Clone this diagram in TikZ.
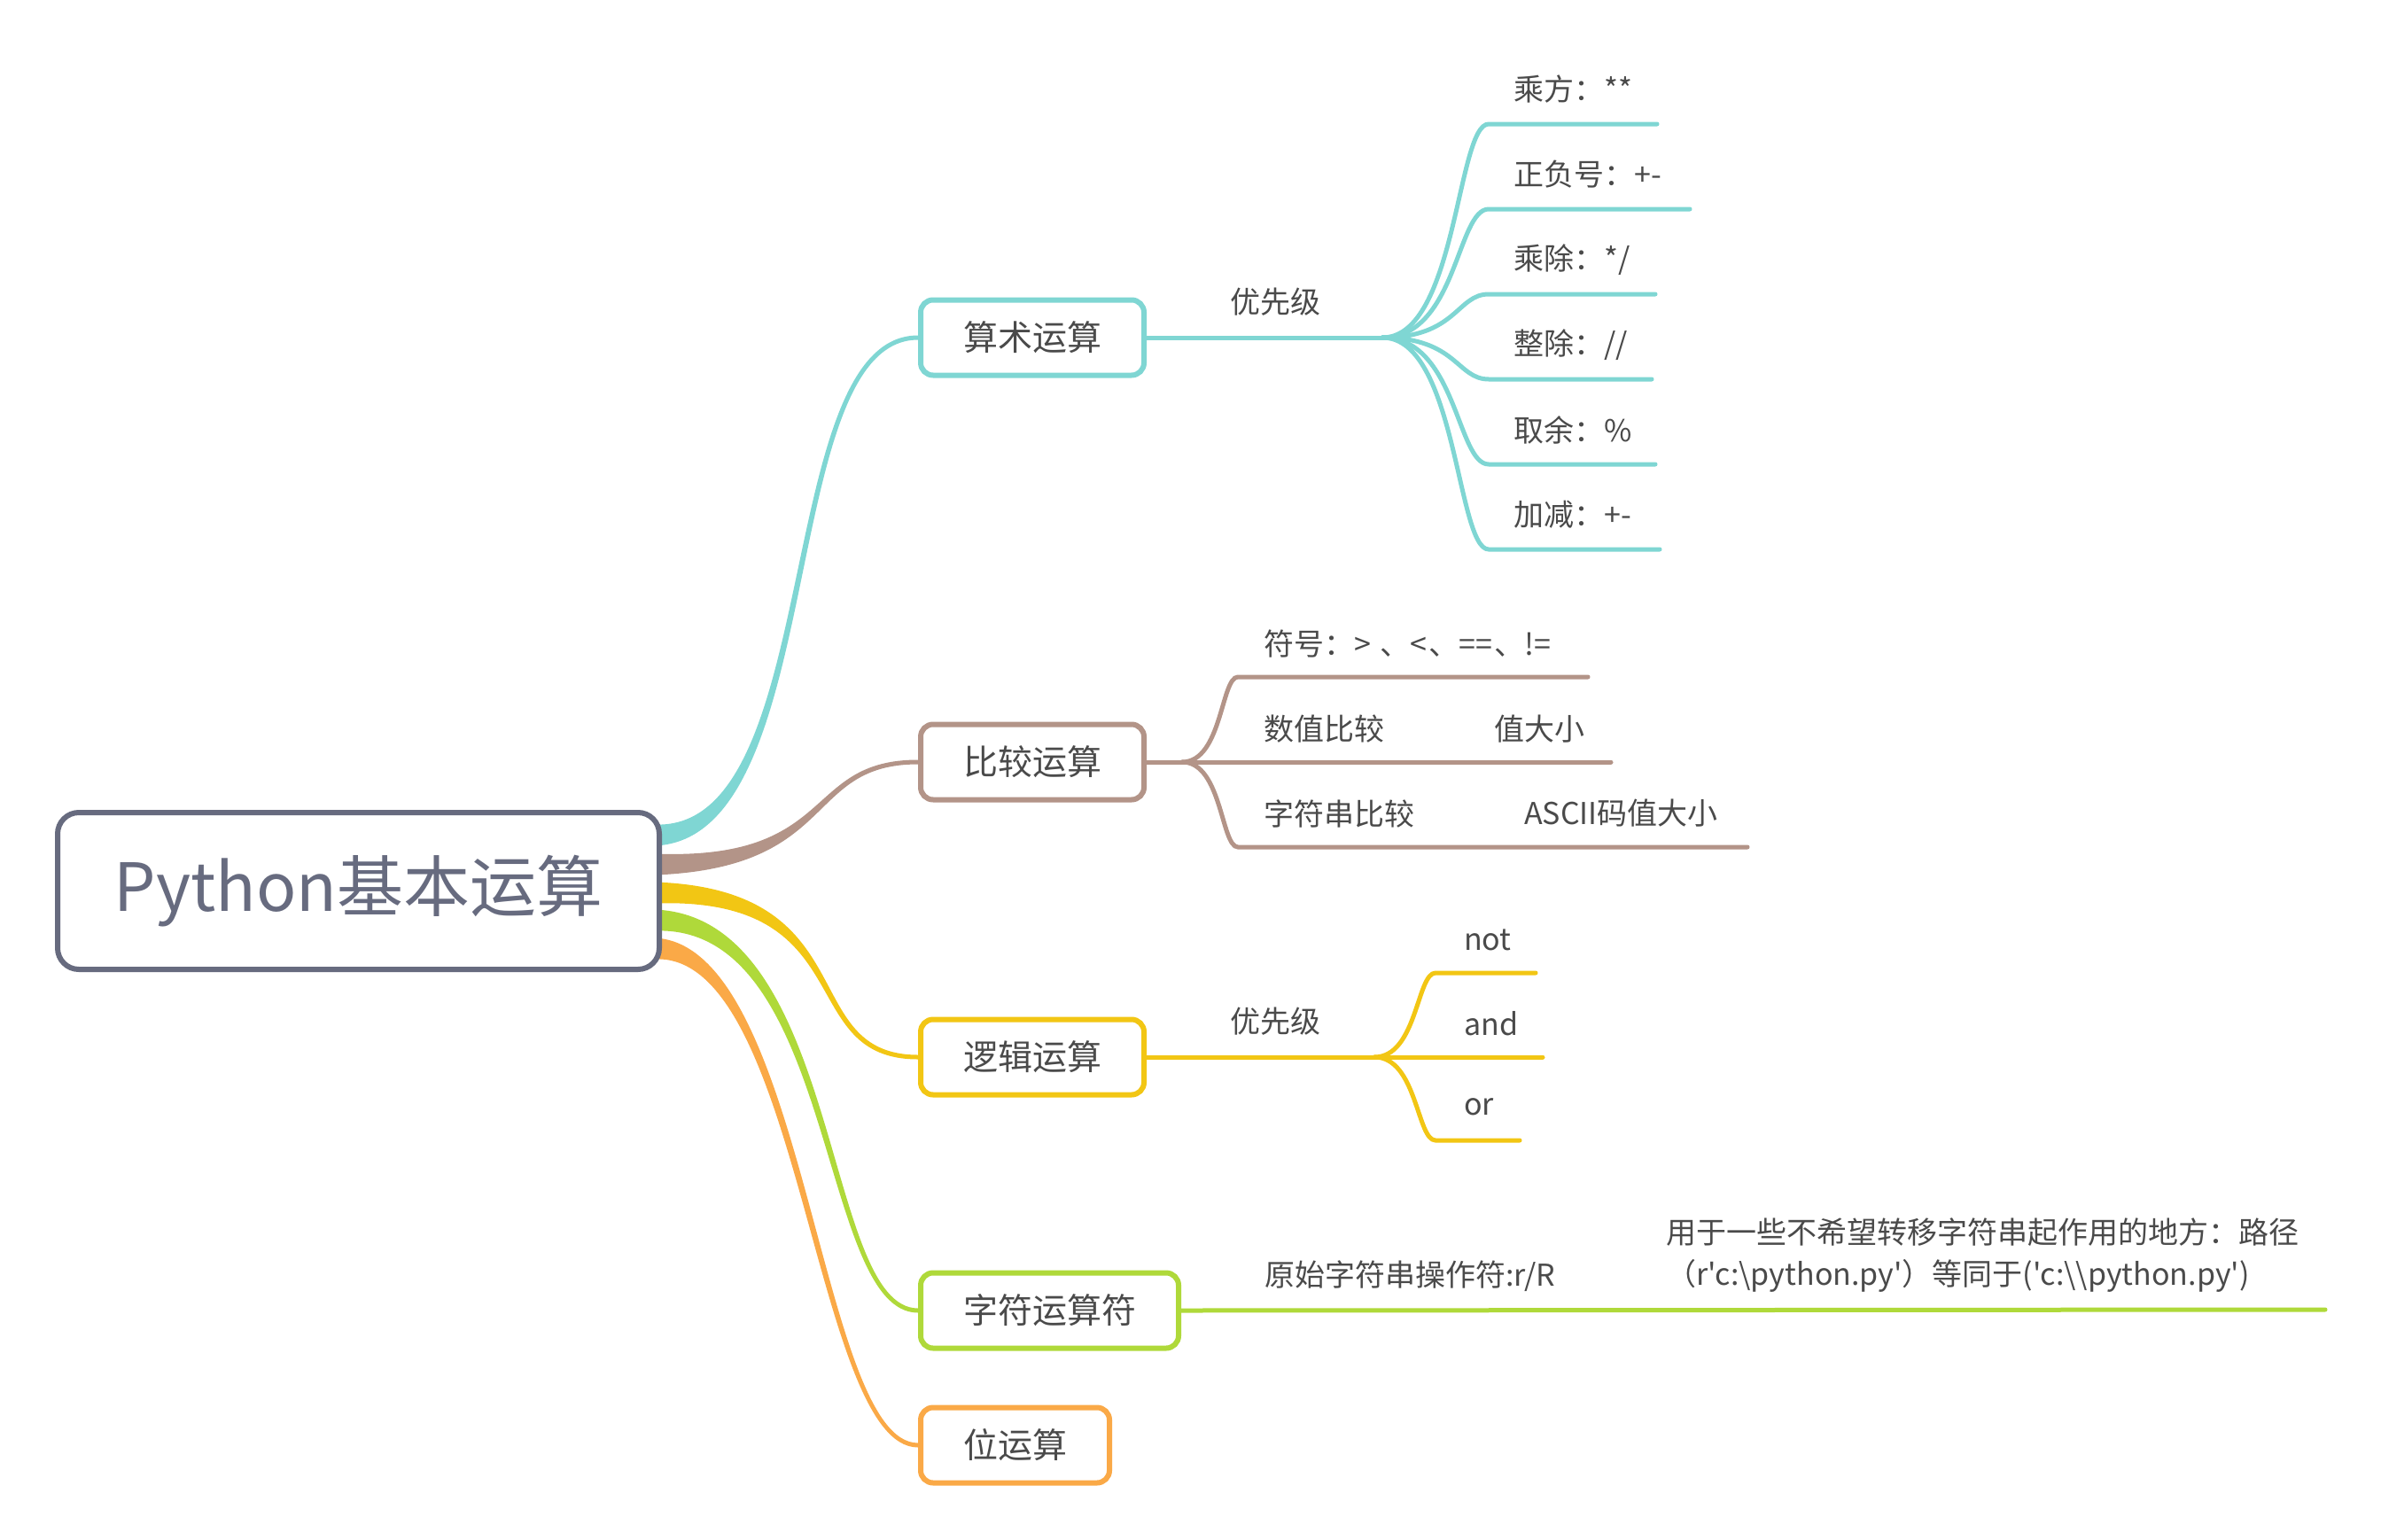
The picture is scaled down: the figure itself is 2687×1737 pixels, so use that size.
\documentclass[tikz,border=0pt]{standalone}
\usepackage{fontspec}
\newfontfamily\cjkf{Noto Sans CJK SC}
\usetikzlibrary{calc,backgrounds}
\definecolor{cteal}{HTML}{7FD6D3}
\definecolor{cbrown}{HTML}{B39488}
\definecolor{cyellow}{HTML}{F2C614}
\definecolor{cgreen}{HTML}{AFD93A}
\definecolor{corange}{HTML}{FAA947}
\definecolor{croot}{HTML}{676B7F}
\definecolor{ctxt}{HTML}{4A4A4A}
% #1 colour, #2 vertical offset at root, #3 target node, #4 mid widening, #5 start handle, #6 end handle
\newcommand\taperlink[6]{%
  \fill[#1] ($(root.east)+({-8},{#2-12})$)
    .. controls ($(root.east)+({#5-(#4)},{#2-4})$) and ($(#3.west)+({-(#6)-(#4)},{-2.5})$)
    .. ($(#3.west)+({0},{-2.5})$)
    -- ($(#3.west)+({0},{2.5})$)
    .. controls ($(#3.west)+({-(#6)+(#4)},{2.5})$) and ($(root.east)+({#5+(#4)},{#2+4})$)
    .. ($(root.east)+({-8},{#2+12})$) -- cycle;}
\begin{document}
\begin{tikzpicture}[x=1pt,y=-1pt,
  rootbox/.style={draw=croot, line width=6pt, rounded corners=24pt, fill=white,
    minimum width=679pt, minimum height=177pt, inner sep=0pt, text=croot,
    font=\cjkf\fontsize{75}{80}\selectfont},
  topicbox/.style={draw=#1, line width=6pt, rounded corners=14pt, fill=white,
    minimum height=85pt, inner sep=0pt, text=ctxt, font=\cjkf\fontsize{39}{44}\selectfont},
  leaftext/.style={anchor=west, inner sep=0pt, text=ctxt, font=\cjkf\fontsize{34}{40}\selectfont},
  labeltext/.style={inner sep=0pt, text=ctxt, font=\cjkf\fontsize{34}{40}\selectfont},
  link/.style={draw=#1, line width=5pt, line cap=round},
]
\useasboundingbox (0,0) rectangle (2687,1737);

% nodes
\node[rootbox] (root) at (404.5,1005.5) {Python基本运算};
\node[topicbox=cteal, minimum width=252pt] (arith) at (1165,381) {算术运算};
\node[topicbox=cbrown, minimum width=252pt] (comp) at (1165,860) {比较运算};
\node[topicbox=cyellow, minimum width=252pt] (logic) at (1165,1193) {逻辑运算};
\node[topicbox=cgreen, minimum width=291pt] (strop) at (1184.5,1479) {字符运算符};
\node[topicbox=corange, minimum width=213pt] (bitop) at (1145.5,1631) {位运算};

% labels
\node[labeltext] (lbl1) at (1439,341) {优先级};
\node[labeltext] (lbl2) at (1439,1153) {优先级};
\node[leaftext] (lbl3) at (1427,1440) {原始字符串操作符:r/R};

% arithmetic leaves
\node[leaftext] (a1) at (1708,101) {乘方：**};
\node[leaftext] (a2) at (1708,197) {正负号：+-};
\node[leaftext] (a3) at (1708,293) {乘除：*/};
\node[leaftext] (a4) at (1708,389) {整除：//};
\node[leaftext] (a5) at (1708,485) {取余：\%};
\node[leaftext] (a6) at (1708,581) {加减：+-};

% comparison leaves
\node[leaftext] (b1) at (1426,727) {符号：> \hspace{3pt}、<\hspace{2pt}、==\hspace{2pt}、!=};
\node[leaftext] (b2) at (1426,823) {数值比较};
\node[leaftext] (b2v) at (1686,823) {值大小};
\node[leaftext] (b3) at (1426,918) {字符串比较};
\node[leaftext] (b3v) at (1720,918) {ASCII码值大小};

% logic leaves
\node[leaftext] (c1) at (1652,1061) {not};
\node[leaftext] (c2) at (1652,1155) {and};
\node[leaftext] (c3) at (1652,1249) {or};

% string note
\node[leaftext] (d1) at (1880,1391) {用于一些不希望转移字符串起作用的地方：路径};
\node[leaftext] (d2) at (1880,1440) {（r'c:\textbackslash python.py'）等同于('c:\textbackslash\textbackslash python.py')};

\begin{scope}[on background layer]
  % tapered main branches
  \taperlink{cteal}{-63}{arith}{3}{187}{163}
  \taperlink{cbrown}{-30}{comp}{1}{200}{130}
  \taperlink{cyellow}{2}{logic}{-2}{230}{140}
  \taperlink{cgreen}{33}{strop}{-3}{200}{110}
  \taperlink{corange}{65}{bitop}{-3}{160}{115}

  % arithmetic fan
  \draw[link=cteal] (arith.east) -- (1560,381) coordinate (fa);
  \foreach \yy/\xe in {140/1870, 236/1907, 332/1868, 428/1864, 524/1868, 620/1873}
    \draw[link=cteal] (fa) .. controls +(84,0) and +(-36,0) .. (1680,\yy) -- (\xe,\yy);

  % comparison fan
  \draw[link=cbrown] (comp.east) -- (1334,860) coordinate (fb);
  \draw[link=cbrown] (fb) .. controls +(45,0) and +(-19,0) .. (1397,764) -- (1792,764);
  \draw[link=cbrown] (fb) -- (1818,860);
  \draw[link=cbrown] (fb) .. controls +(45,0) and +(-19,0) .. (1397,956) -- (1972,956);

  % logic fan
  \draw[link=cyellow] (logic.east) -- (1551,1193) coordinate (fc);
  \draw[link=cyellow] (fc) .. controls +(48,0) and +(-21,0) .. (1620,1098) -- (1733,1098);
  \draw[link=cyellow] (fc) -- (1741,1193);
  \draw[link=cyellow] (fc) .. controls +(48,0) and +(-21,0) .. (1620,1287) -- (1715,1287);

  % string operator line
  \draw[link=cgreen] (strop.east) -- (2624,1478) coordinate (fd);
\end{scope}
\end{tikzpicture}
\end{document}
